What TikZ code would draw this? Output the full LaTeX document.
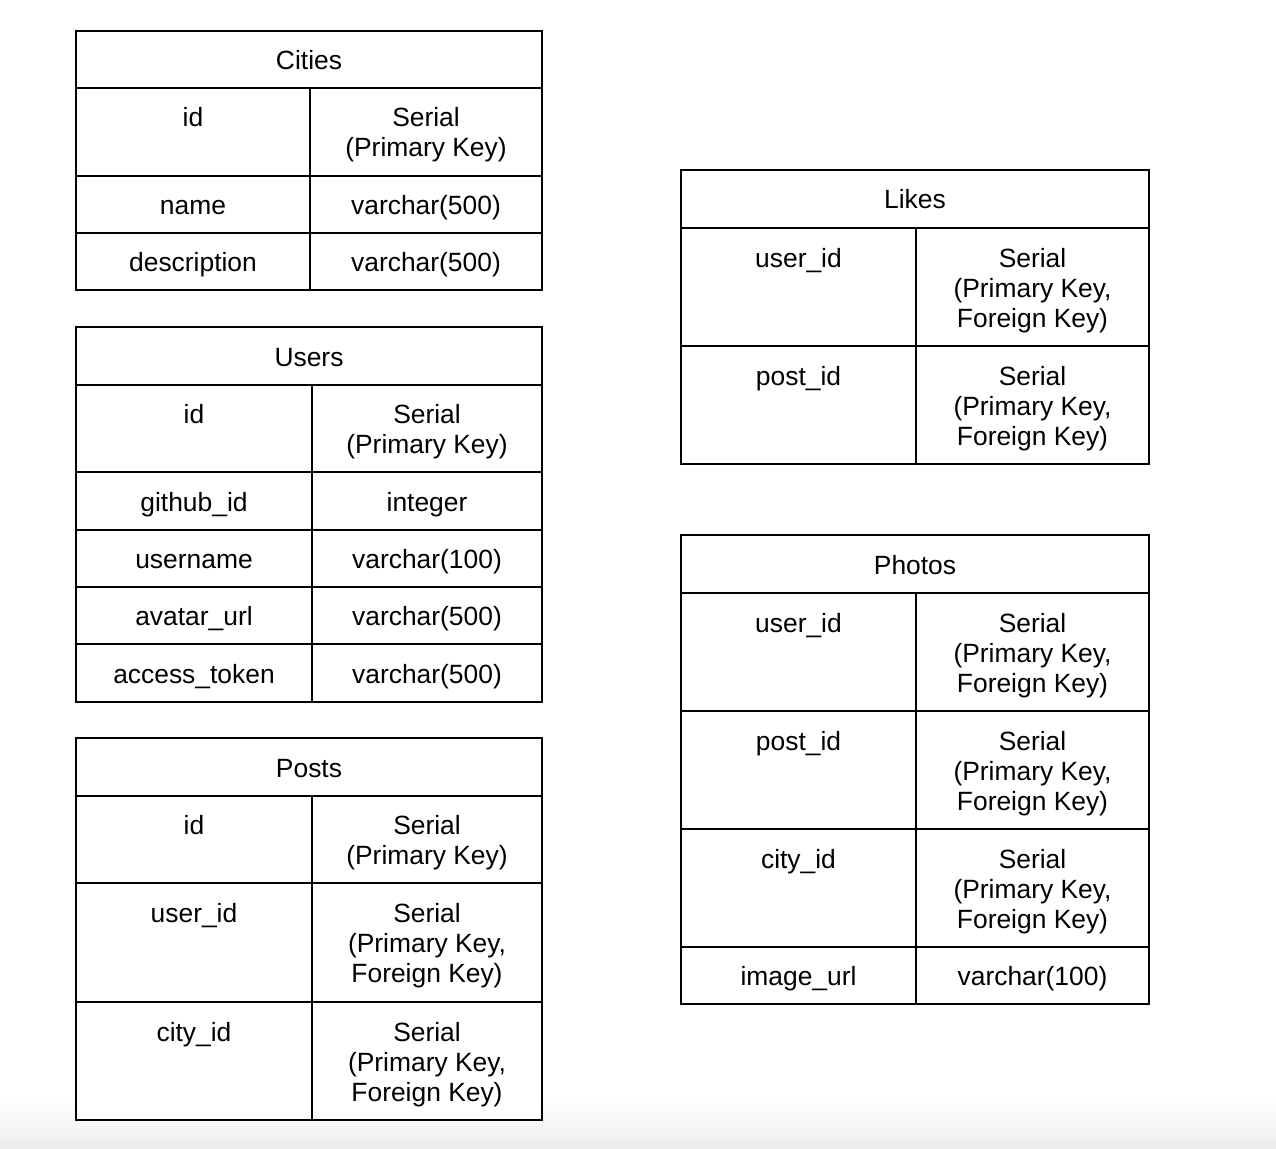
\documentclass[tikz,border=0pt]{standalone}
\usepackage{fontspec}
\setmainfont{Liberation Sans}
\begin{document}
\begin{tikzpicture}[x=0.75pt,y=-0.75pt]
\tikzset{
  tbl/.style={line width=1.5pt, fill=white},
  rule/.style={line width=1.5pt},
  txt/.style={inner sep=0pt, font=\fontsize{19.8pt}{22.5pt}\selectfont, align=center, anchor=base},
}
\useasboundingbox (0,0) rectangle (1276,1148);
\fill[white] (0,0) rectangle (1276,1148);
\shade[top color=white, bottom color=black!7] (0,1100) rectangle (1276,1148);

% ---------- Cities ----------
\draw[tbl] (76,31) rectangle (542,290);
\draw[rule] (76,88) -- (542,88) (76,176) -- (542,176) (76,233) -- (542,233) (310,88) -- (310,290);
\node[txt] (cities-h) at (309,69.5) {Cities};
\node[txt] (cities-id) at (193,127) {id};
\node[txt] (cities-idt) at (426,157) {Serial\\(Primary Key)};
\node[txt] (cities-name) at (193,214.5) {name};
\node[txt] (cities-namet) at (426,214.5) {varchar(500)};
\node[txt] (cities-desc) at (193,271.5) {description};
\node[txt] (cities-desct) at (426,271.5) {varchar(500)};

% ---------- Users ----------
\draw[tbl] (76,327) rectangle (542,702);
\draw[rule] (76,385) -- (542,385) (76,472) -- (542,472) (76,530) -- (542,530)
  (76,587) -- (542,587) (76,644) -- (542,644) (312,385) -- (312,702);
\node[txt] (users-h) at (309,366) {Users};
\node[txt] (users-id) at (194,423.5) {id};
\node[txt] (users-idt) at (427,453.5) {Serial\\(Primary Key)};
\node[txt] (users-gh) at (194,511) {github\_id};
\node[txt] (users-ght) at (427,511) {integer};
\node[txt] (users-un) at (194,568.5) {username};
\node[txt] (users-unt) at (427,568.5) {varchar(100)};
\node[txt] (users-av) at (194,625.5) {avatar\_url};
\node[txt] (users-avt) at (427,625.5) {varchar(500)};
\node[txt] (users-at) at (194,683) {access\_token};
\node[txt] (users-att) at (427,683) {varchar(500)};

% ---------- Posts ----------
\draw[tbl] (76,738) rectangle (542,1120);
\draw[rule] (76,796) -- (542,796) (76,883) -- (542,883) (76,1002) -- (542,1002) (312,796) -- (312,1120);
\node[txt] (posts-h) at (309,777) {Posts};
\node[txt] (posts-id) at (194,834.5) {id};
\node[txt] (posts-idt) at (427,864.5) {Serial\\(Primary Key)};
\node[txt] (posts-uid) at (194,922.5) {user\_id};
\node[txt] (posts-uidt) at (427,982.5) {Serial\\(Primary Key,\\Foreign Key)};
\node[txt] (posts-cid) at (194,1041) {city\_id};
\node[txt] (posts-cidt) at (427,1101) {Serial\\(Primary Key,\\Foreign Key)};

% ---------- Likes ----------
\draw[tbl] (681,170) rectangle (1149,464);
\draw[rule] (681,228) -- (1149,228) (681,346) -- (1149,346) (916,228) -- (916,464);
\node[txt] (likes-h) at (915,209) {Likes};
\node[txt] (likes-uid) at (798.5,267) {user\_id};
\node[txt] (likes-uidt) at (1032.5,327) {Serial\\(Primary Key,\\Foreign Key)};
\node[txt] (likes-pid) at (798.5,385) {post\_id};
\node[txt] (likes-pidt) at (1032.5,445) {Serial\\(Primary Key,\\Foreign Key)};

% ---------- Photos ----------
\draw[tbl] (681,535) rectangle (1149,1004);
\draw[rule] (681,593) -- (1149,593) (681,711) -- (1149,711) (681,829) -- (1149,829)
  (681,947) -- (1149,947) (916,593) -- (916,1004);
\node[txt] (photos-h) at (915,574) {Photos};
\node[txt] (photos-uid) at (798.5,632) {user\_id};
\node[txt] (photos-uidt) at (1032.5,692) {Serial\\(Primary Key,\\Foreign Key)};
\node[txt] (photos-pid) at (798.5,750) {post\_id};
\node[txt] (photos-pidt) at (1032.5,810) {Serial\\(Primary Key,\\Foreign Key)};
\node[txt] (photos-cid) at (798.5,868) {city\_id};
\node[txt] (photos-cidt) at (1032.5,928) {Serial\\(Primary Key,\\Foreign Key)};
\node[txt] (photos-img) at (798.5,985.5) {image\_url};
\node[txt] (photos-imgt) at (1032.5,985.5) {varchar(100)};
\end{tikzpicture}
\end{document}
